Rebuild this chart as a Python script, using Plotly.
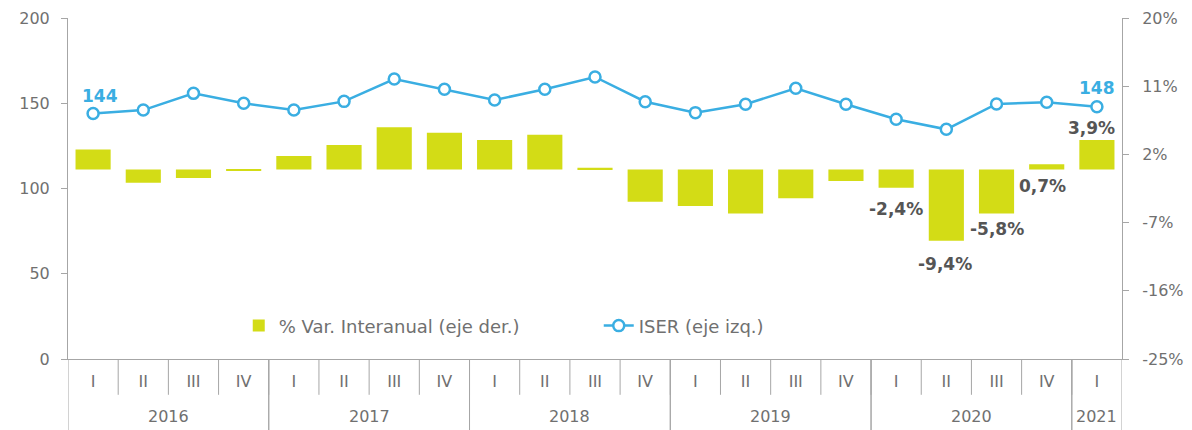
import plotly.graph_objects as go

years = ["2016"] * 4 + ["2017"] * 4 + ["2018"] * 4 + ["2019"] * 4 + ["2020"] * 4 + ["2021"]
quarters = ["I", "II", "III", "IV"] * 5 + ["I"]

iser = [144, 146, 155.8, 150, 146, 151.1, 164.2, 158.2, 151.9, 158.2, 165.4,
        150.9, 144.5, 149.4, 158.8, 149.4, 140.6, 134.7, 149.6, 150.6, 148]
var_pct = [2.66, -1.74, -1.1, -0.2, 1.78, 3.23, 5.57, 4.86, 3.9, 4.6, 0.25,
           -4.25, -4.8, -5.8, -3.8, -1.5, -2.4, -9.4, -5.8, 0.7, 3.9]

left_ticks = [0, 50, 100, 150, 200]
right_ticks = [-25, -16, -7, 2, 11, 20]

# labelled points: index -> (xshift, yshift)
bar_label_idx = [16, 17, 18, 19, 20]
bar_label_shift = {16: (0, -21), 17: (-1, -23), 18: (0, -15), 19: (-4, -22), 20: (-5, 12)}
line_label_idx = [0, 20]
line_label_shift = {0: (7, 17), 20: (0, 19)}

BAR = "#d3dc16"
LINE = "#3aaee2"
GREY = "#707070"
AX = "#a6a6a6"
FONT = "DejaVu Sans"

pos = list(range(len(quarters)))

fig = go.Figure()
fig.add_trace(go.Bar(
    x=pos, y=var_pct, yaxis="y2", name="% Var. Interanual (eje der.)",
    marker=dict(color=BAR, line=dict(width=0)),
))
fig.add_trace(go.Scatter(
    x=pos, y=iser, yaxis="y", name="ISER (eje izq.)",
    mode="lines+markers",
    line=dict(color=LINE, width=2.5),
    marker=dict(symbol="circle", size=11, color="white", line=dict(color=LINE, width=2.5)),
))

def fmt(v):
    return ("%.1f" % v).replace(".", ",") + "%"

anns = []
for i in bar_label_idx:
    dx, dy = bar_label_shift[i]
    anns.append(dict(x=pos[i], y=var_pct[i], xref="x", yref="y2", text="<b>" + fmt(var_pct[i]) + "</b>",
                     showarrow=False, xshift=dx, yshift=dy,
                     font=dict(family=FONT, size=17, color="#555555")))
for i in line_label_idx:
    dx, dy = line_label_shift[i]
    anns.append(dict(x=pos[i], y=iser[i], xref="x", yref="y", text="<b>%d</b>" % round(iser[i]),
                     showarrow=False, xshift=dx, yshift=dy,
                     font=dict(family=FONT, size=17, color=LINE)))

# year groups (computed from the years list)
groups = []
for i, yv in enumerate(years):
    if groups and groups[-1][0] == yv:
        groups[-1][2] = i
    else:
        groups.append([yv, i, i])

# quarter row separators as one path (category boundaries)
qpath = " ".join("M%g,0 L%g,-0.105" % (p + 0.5, p + 0.5) for p in pos[:-1])
# year separators as one path
ypath = " ".join("M%g,0 L%g,-0.21" % (e, e)
                 for yv, a, b in groups for e in (a - 0.5, b + 0.5))
shapes = [
    dict(type="path", xref="x", yref="paper", path=qpath, line=dict(color=AX, width=1)),
    dict(type="path", xref="x", yref="paper", path=ypath, line=dict(color=AX, width=1)),
]

for yv, a, b in groups:
    anns.append(dict(x=(a + b) / 2, y=-0.168, xref="x", yref="paper", text=yv,
                     showarrow=False, yanchor="middle",
                     font=dict(family=FONT, size=16, color=GREY)))

fig.update_layout(
    width=1184, height=422,
    margin=dict(l=60, r=70, t=10, b=71),
    paper_bgcolor="white", plot_bgcolor="white",
    font=dict(family=FONT, size=15, color=GREY),
    bargap=0.3,
    annotations=anns,
    shapes=shapes,
    legend=dict(orientation="h", x=0.162, y=0.097, xanchor="left", yanchor="middle",
                entrywidth=315, entrywidthmode="pixels",
                font=dict(family=FONT, size=18, color=GREY), bgcolor="rgba(0,0,0,0)"),
    xaxis=dict(range=[-0.5, len(pos) - 0.5], automargin=False,
               tickmode="array", tickvals=pos, ticktext=quarters,
               showline=True, linecolor=AX, linewidth=1,
               ticks="", ticklabelstandoff=8,
               tickfont=dict(family=FONT, size=16, color=GREY), showgrid=False, zeroline=False),
    yaxis=dict(range=[0, 200], tickvals=left_ticks, showgrid=False, zeroline=False,
               automargin=False, ticklabelstandoff=8,
               showline=True, linecolor=AX, linewidth=1, ticks="outside", ticklen=6,
               tickcolor=AX, tickfont=dict(family=FONT, size=16, color=GREY)),
    yaxis2=dict(range=[-25, 20], tickvals=right_ticks, ticktext=["%d%%" % t for t in right_ticks],
                overlaying="y", side="right", showgrid=False, zeroline=False,
                automargin=False, ticklabelstandoff=10,
                showline=True, linecolor=AX, linewidth=1, ticks="outside", ticklen=6,
                tickcolor=AX, tickfont=dict(family=FONT, size=16, color=GREY)),
)

fig.write_html("out.html")
